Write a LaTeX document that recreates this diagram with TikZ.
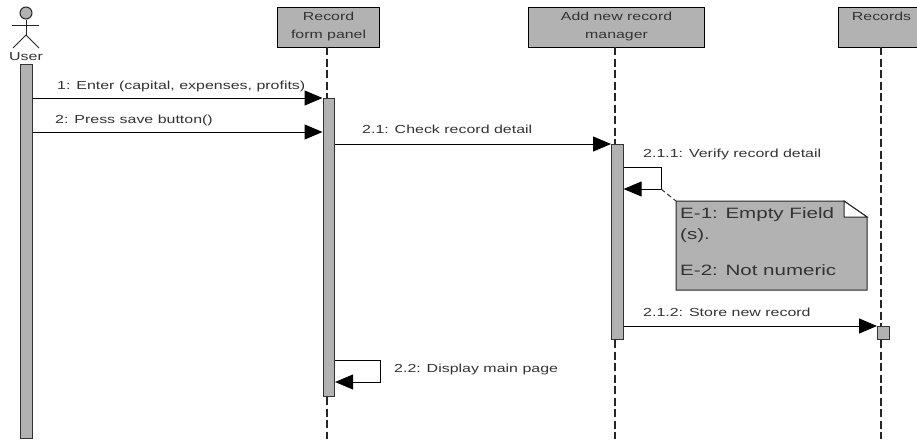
\documentclass[tikz,border=0pt]{standalone}
\usepackage{fontspec}
\setmainfont{Liberation Sans}[FakeStretch=1.37]
\usetikzlibrary{arrows.meta,calc}
\definecolor{fillgray}{HTML}{B2B2B2}
\definecolor{textgray}{HTML}{333333}
\tikzset{
    % Define style for lifeline boxes
    kasse/.style={
           rectangle,
           draw=black, line width=1.1pt,
           fill=fillgray,
           anchor=north west,
           inner sep=0pt,
           minimum height=40pt,
           align=center,
           text=textgray,
           font=\fontsize{11.6}{18}\selectfont},
    % Define style for activation bars
    bar/.style={
           rectangle,
           draw=black!80, line width=1.1pt,
           fill=fillgray,
           anchor=north west,
           inner sep=0pt,
           minimum width=11.5pt},
    % Define arrow style
    pil/.style={
           -{Triangle[length=18pt,width=15pt]},
           line width=1pt},
    % Dashed lines
    livslinje/.style={
           black!85, line width=1.1pt,
           dash pattern=on 8pt off 3.5pt},
    tekst/.style={
           anchor=west,
           inner sep=0pt,
           text height=8pt,
           text depth=0pt,
           text=textgray,
           font=\fontsize{11.65}{13}\selectfont},
    notetekst/.style={
           tekst,
           text height=11pt,
           font=\fontsize{15}{17}\selectfont}
}
% Extra depth lifts the text in its box
\newcommand*{\lift}{\rule[-4pt]{0pt}{1pt}}

\begin{document}
\begin{tikzpicture}[x=1pt,y=-1pt]
\useasboundingbox (0,0) rectangle (917,439);

% First the actor
\node[circle, draw=black!85, line width=1pt, fill=fillgray, minimum size=12pt, inner sep=0pt] (head) at (26,13) {};
\coordinate (neck) at (26,35);
\coordinate (armL) at (12,25);
\coordinate (armR) at (39,25);
\coordinate (legL) at (13,48);
\coordinate (legR) at (39,48);
\draw[black!85, line width=.9pt] (head.south) -- (neck);
\draw[black!85, line width=.9pt] (armL) -- (armR);
\draw[black!85, line width=.9pt] (legL) -- (neck) -- (legR);
\node[tekst, anchor=center] (userL) at (26,56) {User};

% Now the boxes on top
\node[kasse, minimum width=102pt] (formB) at (277,7) {Record\\form panel\lift};
\node[kasse, minimum width=176pt] (mgrB) at (528,7) {Add new record\\manager\lift};
\node[kasse, minimum width=86pt] (recB) at (838,7) {Records\\\lift};

% Activation bars
\node[bar, minimum height=374pt] (userA) at (20,64) {};
\node[bar, minimum height=298pt] (formA) at (322.5,98) {};
\node[bar, minimum height=195pt] (mgrA) at (611,144) {};
\node[bar, minimum height=13pt] (recA) at (877,326) {};

% Lifelines stop at the bars
\coordinate (formTop) at (327,47);
\coordinate (mgrTop) at (615,47);
\coordinate (recTop) at (881,47);
\coordinate (formEnd) at (327,439);
\coordinate (mgrEnd) at (615,439);
\coordinate (recEnd) at (881,439);
\draw[livslinje] (formTop) -- (formTop |- formA.north);
\draw[livslinje] (formTop |- formA.south) -- (formEnd);
\draw[livslinje] (mgrTop) -- (mgrTop |- mgrA.north);
\draw[livslinje] (mgrTop |- mgrA.south) -- (mgrEnd);
\draw[livslinje] (recTop) -- (recTop |- recA.north);
\draw[livslinje] (recTop |- recA.south) -- (recEnd);

% Rows of the messages
\coordinate (m1) at (0,98);
\coordinate (m2) at (0,132);
\coordinate (m21) at (0,144);
\coordinate (m212) at (0,326);

% Now connect the bars
\draw[pil] (userA.east |- m1) -- (formA.west |- m1);
\draw[pil] (userA.east |- m2) -- (formA.west |- m2);
\draw[pil] (formA.east |- m21) -- (mgrA.north west);
\draw[pil] (mgrA.east |- m212) -- (recA.north west);

% Self messages
\coordinate (s1a) at (mgrA.east |- 0,167);
\coordinate (s1b) at (mgrA.east |- 0,189);
\coordinate (s1c) at (661,189);
\draw[pil] (s1a) -| (s1c) -- (s1b);
\coordinate (s2a) at (formA.east |- 0,360);
\coordinate (s2b) at (formA.east |- 0,382);
\coordinate (s2c) at (380.5,382);
\draw[pil] (s2a) -| (s2c) -- (s2b);

% Labels of the messages
\node[tekst] (m1L) at (57,85) {1: Enter (capital, expenses, profits)};
\node[tekst] (m2L) at (55,119) {2: Press save button()};
\node[tekst] (m21L) at (362,129) {2.1: Check record detail};
\node[tekst] (s1L) at (643,153) {2.1.1: Verify record detail};
\node[tekst] (m212L) at (643,312) {2.1.2: Store new record};
\node[tekst] (s2L) at (394,368) {2.2: Display main page};

% The note with its folded corner
\coordinate (noteNW) at (676,201);
\coordinate (noteSE) at (867,290);
\coordinate (foldA) at (844,201);
\coordinate (foldB) at (867,217);
\coordinate (foldC) at (844,217);
\draw[line width=1pt, draw=black!85, fill=fillgray] (noteNW) -- (foldA) -- (foldB) -- (noteSE) -- (noteNW |- noteSE) -- cycle;
\draw[line width=1pt, draw=black!85, fill=white] (foldA) -- (foldB) -- (foldC) -- cycle;
\draw[black!85, line width=.9pt, dash pattern=on 5pt off 3pt] (s1c) -- (noteNW);
\node[notetekst] (e1L) at (680,213) {E-1: Empty Field};
\node[notetekst] (e1bL) at (680,234) {(s).};
\node[notetekst] (e2L) at (680,270) {E-2: Not numeric};
\end{tikzpicture}
\end{document}
